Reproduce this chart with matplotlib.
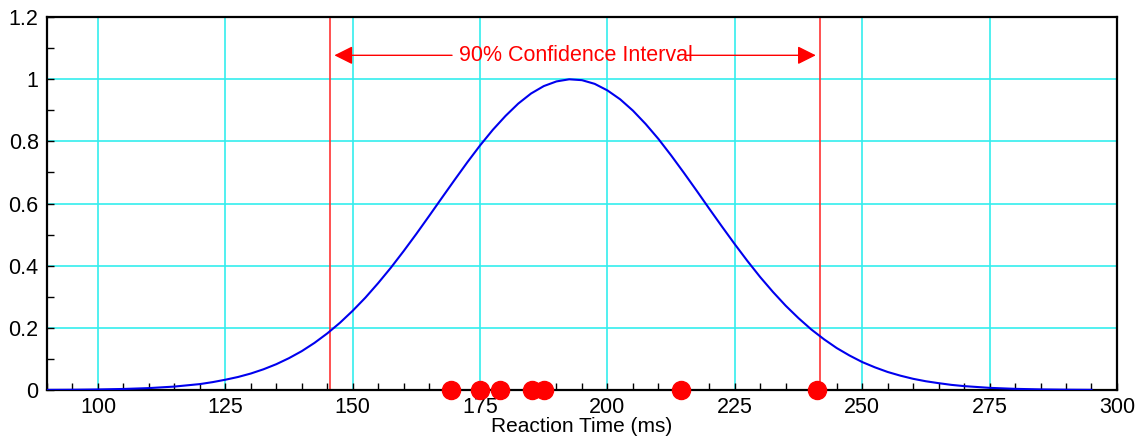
import matplotlib
matplotlib.use("Agg")
import matplotlib.pyplot as plt
from matplotlib.ticker import MultipleLocator

# curve values (reaction time in ms, relative height)
curve_x = [90, 95, 100, 105, 110, 115, 120, 122.5, 125, 127.5, 130, 132.5, 135,
           137.5, 140, 142.5, 145, 147.5, 150, 152.5, 155, 157.5, 160, 162.5,
           165, 167.5, 170, 172.5, 175, 177.5, 180, 182.5, 185, 187.5, 190,
           192.5, 195, 197.5, 200, 202.5, 205, 207.5, 210, 212.5, 215, 217.5,
           220, 222.5, 225, 227.5, 230, 232.5, 235, 237.5, 240, 242.5, 245,
           247.5, 250, 252.5, 255, 257.5, 260, 262.5, 265, 267.5, 270, 275,
           280, 285, 290, 295]
curve_y = [0.0004, 0.0008, 0.0017, 0.0033, 0.0061, 0.011, 0.019, 0.0253, 0.033,
           0.0419, 0.053, 0.0667, 0.083, 0.1025, 0.125, 0.1516, 0.182, 0.2163,
           0.255, 0.2973, 0.344, 0.3937, 0.447, 0.5025, 0.560, 0.6182, 0.676,
           0.7328, 0.787, 0.8372, 0.882, 0.9217, 0.954, 0.9779, 0.993, 0.9998,
           0.997, 0.9851, 0.964, 0.9354, 0.899, 0.856, 0.808, 0.7549, 0.699,
           0.6415, 0.583, 0.5254, 0.469, 0.4146, 0.363, 0.3153, 0.271, 0.2312,
           0.195, 0.1633, 0.135, 0.1111, 0.090, 0.0729, 0.058, 0.0461, 0.036,
           0.0281, 0.022, 0.0165, 0.0125, 0.0069, 0.0037, 0.0019, 0.0010, 0.0005]

# observed reaction times (red dots)
samples = [169.3, 175.0, 178.9, 185.1, 187.6, 214.4, 241.2]

# confidence interval limits
ci_low, ci_high = 145.6, 241.7
ci_label = '90% Confidence Interval'

plt.rcParams['font.family'] = ['Liberation Sans', 'DejaVu Sans']

fig = plt.figure(figsize=(11.41, 4.38), dpi=100)
ax = fig.add_axes([0.0412, 0.1096, 0.9377, 0.8514])

ax.plot(curve_x, curve_y, color='#0000EE', lw=1.5, zorder=3)

ax.axvline(ci_low, color='#FF3333', lw=1.2, zorder=2)
ax.axvline(ci_high, color='#FF3333', lw=1.2, zorder=2)

ax.plot(samples, [0] * len(samples), 'o', color='red', markersize=13,
        clip_on=False, zorder=5)

# arrows + label for the interval
arr_y = 1.077
ax.text(193.8, arr_y, ci_label, color='red', fontsize=15.5,
        ha='center', va='center', zorder=4)
ax.annotate('', xy=(ci_low + 0.8, arr_y), xytext=(169.5, arr_y),
            arrowprops=dict(arrowstyle='-|>', color='red', lw=1,
                            mutation_scale=28, shrinkA=0, shrinkB=0))
ax.annotate('', xy=(ci_high - 0.8, arr_y), xytext=(215.5, arr_y),
            arrowprops=dict(arrowstyle='-|>', color='red', lw=1,
                            mutation_scale=28, shrinkA=0, shrinkB=0))

ax.set_xlim(90, 300)
ax.set_ylim(0, 1.2)
ax.xaxis.set_minor_locator(MultipleLocator(5))
ax.yaxis.set_minor_locator(MultipleLocator(0.1))
ax.set_xticks([100, 125, 150, 175, 200, 225, 250, 275, 300])
ax.set_yticks([0, 0.2, 0.4, 0.6, 0.8, 1.0, 1.2])
ax.set_yticklabels(['0', '0.2', '0.4', '0.6', '0.8', '1', '1.2'])

ax.tick_params(which='both', direction='in', labelsize=15.5, top=False, right=False)
ax.tick_params(which='major', length=5, width=1)
ax.tick_params(which='minor', length=5, width=1)
ax.tick_params(axis='x', pad=5)
ax.tick_params(axis='y', pad=6)

ax.grid(True, which='major', color='#33EEEE', lw=1.2, zorder=0)
ax.set_axisbelow(True)

for sp in ax.spines.values():
    sp.set_linewidth(1.6)
    sp.set_color('black')

ax.set_xlabel('Reaction Time (ms)', fontsize=15, labelpad=-1)

fig.savefig('out.png', dpi=100)
